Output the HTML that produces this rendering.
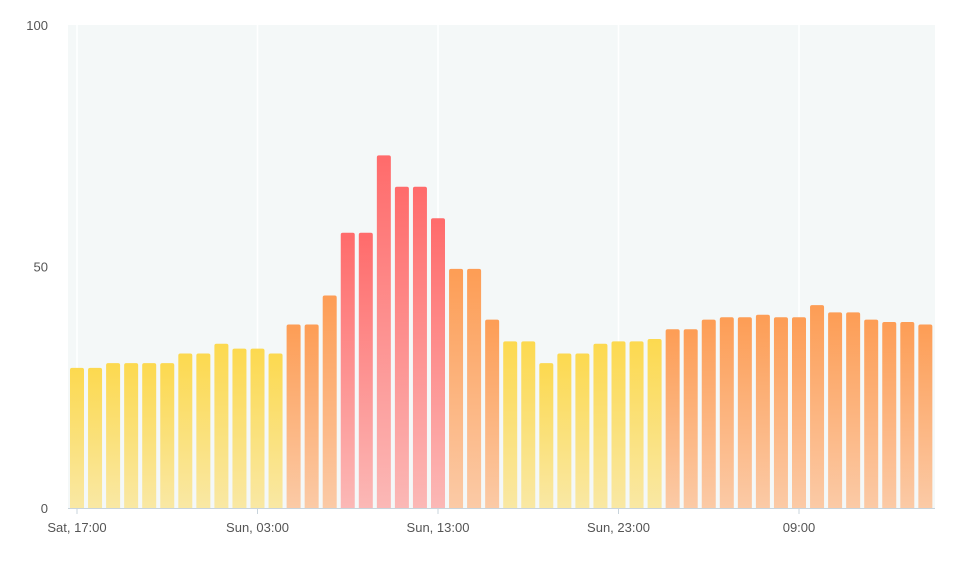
<!DOCTYPE html>
<html><head><meta charset="utf-8">
<style>
html,body{margin:0;padding:0;background:#fff;}
svg{display:block;font-family:"Liberation Sans",sans-serif;}
</style></head>
<body>
<svg id="chart" width="962" height="568" viewBox="0 0 962 568" xmlns="http://www.w3.org/2000/svg">
<defs>
<linearGradient id="gY" x1="0" y1="0" x2="0" y2="1"><stop offset="0" stop-color="#fcd94f"/><stop offset="1" stop-color="#f9e8a4"/></linearGradient>
<linearGradient id="gO" x1="0" y1="0" x2="0" y2="1"><stop offset="0" stop-color="#fd9d55"/><stop offset="1" stop-color="#fbcaa6"/></linearGradient>
<linearGradient id="gR" x1="0" y1="0" x2="0" y2="1"><stop offset="0" stop-color="#ff6b6b"/><stop offset="1" stop-color="#fbb8b6"/></linearGradient>
</defs>
<rect x="68" y="25" width="867" height="483" fill="#f4f8f8"/>
<g id="grid"></g>
<g id="bars"></g>
<line x1="68" y1="508.5" x2="935" y2="508.5" stroke="#c8d4dc" stroke-width="1"/>
<g id="ylab"></g>
<g id="xlab"></g>
</svg>
<script>
const values = [29,29,30,30,30,30,32,32,34,33,33,32,38,38,44,57,57,73,66.5,66.5,60,49.5,49.5,39,34.5,34.5,30,32,32,34,34.5,34.5,35,37,37,39,39.5,39.5,40,39.5,39.5,42,40.5,40.5,39,38.5,38.5,38];
const yTicks = [0,50,100];
const xTickIndex = [0,10,20,30,40];
const xTickLabels = ["Sat, 17:00","Sun, 03:00","Sun, 13:00","Sun, 23:00","09:00"];

const NS="http://www.w3.org/2000/svg";
const x0=77, step=18.05, yBase=508, yTop=25, yMax=100, barW=14;
function xPos(i){return x0+i*step;}
function yPos(v){return yBase-(v/yMax)*(yBase-yTop);}
function mk(t,a){const e=document.createElementNS(NS,t);for(const k in a)e.setAttribute(k,a[k]);return e;}
const grid=document.getElementById('grid'),bars=document.getElementById('bars'),yl=document.getElementById('ylab'),xl=document.getElementById('xlab');
xTickIndex.forEach((ti,k)=>{
  const g=mk('line',{x1:xPos(ti),x2:xPos(ti),y1:yTop,y2:yBase,stroke:'#ffffff','stroke-width':1.5});
  
  
  grid.appendChild(g);
  const tk=mk('line',{x1:xPos(ti),x2:xPos(ti),y1:yBase,y2:yBase+6,stroke:'#c8d4dc'});
  
  
  grid.appendChild(tk);
  const t=mk('text',{x:xPos(ti),y:532,'text-anchor':'middle','font-size':13,fill:'#555'});
  t.textContent=xTickLabels[k];
  
  
  xl.appendChild(t);
});
yTicks.forEach(v=>{
  const t=mk('text',{x:48,y:yPos(v)+5,'text-anchor':'end','font-size':13,fill:'#555'});
  t.textContent=v;
  
  
  yl.appendChild(t);
});
values.forEach((v,i)=>{
  const fill=v>=50?'url(#gR)':(v>=36?'url(#gO)':'url(#gY)');
  const x=xPos(i)-barW/2,y=yPos(v),h=yBase-y,r=2;
  const d=`M${x},${yBase}V${y+r}Q${x},${y} ${x+r},${y}H${x+barW-r}Q${x+barW},${y} ${x+barW},${y+r}V${yBase}Z`;
  const p=mk('path',{d:d,fill:fill});
  
  
  bars.appendChild(p);
});
</script>
</body></html>
